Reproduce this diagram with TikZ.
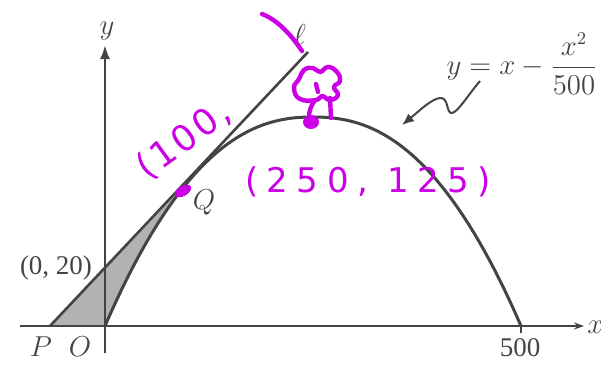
\documentclass[tikz,border=0pt]{standalone}
\usepackage{amsmath}
\usepackage{fontspec}
\setmainfont{Liberation Serif}
\newfontfamily\handfont[LetterSpace=25]{DejaVu Sans}
\newfontfamily\handtight[LetterSpace=8]{DejaVu Sans}
\usetikzlibrary{arrows.meta}
\definecolor{inkgray}{RGB}{68,68,68}
\definecolor{wedgegray}{RGB}{178,178,178}
\definecolor{penpink}{RGB}{204,0,230}
\begin{document}
\begin{tikzpicture}[x=0.5pt,y=-0.5pt,
    axis/.style={draw=inkgray,line width=1.1pt},
    arch/.style={draw=inkgray,line width=1.5pt},
    lbl/.style={text=inkgray,inner sep=0pt,font=\fontsize{13.5}{16}\selectfont},
    pen/.style={draw=penpink,line width=2.2pt,line cap=round,line join=round},
    hand/.style={text=penpink,inner sep=0pt,font=\handfont\fontsize{17}{20}\selectfont}
]
\useasboundingbox (0,0) rectangle (601,381);
\coordinate (O)    at (105,326);
\coordinate (P)    at (50,326);
\coordinate (Q)    at (183,191);
\coordinate (T)    at (308,52);
\coordinate (Ybot) at (105,353);
\coordinate (Ytop) at (105,45);
\coordinate (Xl)   at (20,326);
\coordinate (Xr)   at (584,326);
\coordinate (X5)   at (521,326);
\coordinate (sqS)  at (480,81);
\coordinate (sqE)  at (402,125);

% shaded wedge between P, O and Q
\fill[wedgegray] (P) -- plot[domain=-1:-0.59,samples=30] ({313+208*\x},{326-209*(1-abs(\x)^2.3)}) -- cycle;

% axes
\draw[axis,-{Latex[length=7pt,width=5pt]}] (Ybot) -- (Ytop);
\draw[axis,-{Stealth[length=5pt,width=3.5pt]}] (Xl) -- (Xr);
\draw[axis] (X5) -- ++(0,7);

% curve and line
\draw[arch] plot[domain=-1:1,samples=80] ({313+208*\x},{326-209*(1-abs(\x)^2.3)});
\draw[arch,line width=1.3pt] (P) -- (T);

\node[lbl] (ylbl) at (107,31) {$y$};
\node[lbl,anchor=west] (xlbl) at (587,327) {$x$};
\node[lbl] (Plbl) at (41,347) {$P$};
\node[lbl] (Olbl) at (80,347) {$O$};
\node[lbl] (Qlbl) at (204,202) {$Q$};
\node[lbl] (Ilbl) at (56,268) {(0, 20)};
\node[lbl] (Nlbl) at (520,348) {500};
\node[lbl] (Llbl) at (300,34) {$\ell$};
\node[lbl,anchor=east] (eqn) at (598,64) {$y = x - \dfrac{x^2}{500}$};

\draw[inkgray,line width=1pt,-{Latex[length=6pt,width=5pt]}] (sqS) .. controls (468,95) and (458,112) .. (452,113) .. controls (446,114) and (449,97) .. (440,98) .. controls (431,99) and (418,112) .. (sqE);

% pen marks
\draw[pen] (262,14) .. controls (278,20) and (292,36) .. (302,51);
\fill[penpink,rotate around={30:(Q)}] (Q) ellipse [x radius=9,y radius=5];
\node[hand,font=\handtight\fontsize{18}{21}\selectfont,rotate=36] (hundred) at (184,140) {(100,};
\node[hand] (vertex) at (368,182) {(250, 125)};
\draw[pen] plot[smooth cycle,tension=0.8] coordinates {(300,99) (294,88) (299,79) (304,70) (313,68) (320,72) (328,67) (337,72) (340,81) (334,87) (338,95) (330,100) (322,96) (316,100)};
\draw[pen] (316,84) -- (318,92);
\draw[pen] (315,100) .. controls (311,106) and (309,110) .. (309,118);
\draw[pen] (330,98) -- (331,118);
\fill[penpink] (311,122) ellipse [x radius=8,y radius=7];
\end{tikzpicture}
\end{document}
